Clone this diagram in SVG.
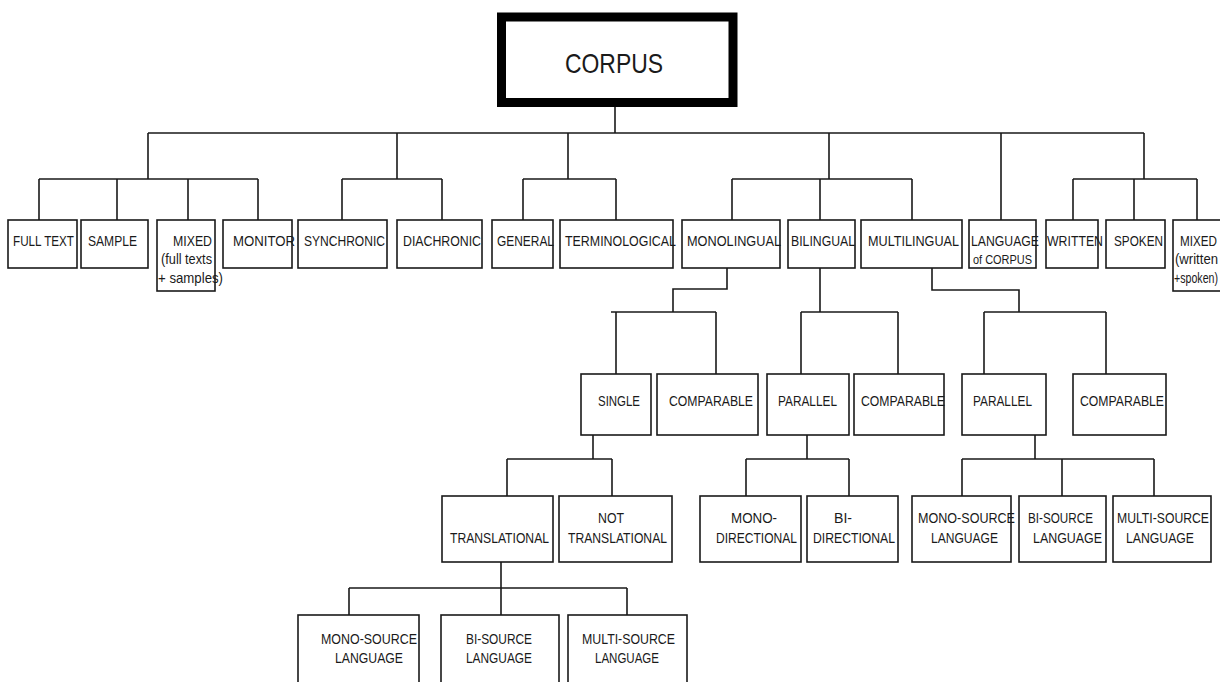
<svg xmlns="http://www.w3.org/2000/svg" width="1220" height="682" viewBox="0 0 1220 682">
<style>
.b{fill:#fff;stroke:#1a1a1a;stroke-width:1.6}
.c{fill:none;stroke:#1a1a1a;stroke-width:1.6}
text{font-family:"Liberation Sans",Arial,sans-serif;font-size:14.5px;fill:#1a1a1a}
.s{font-size:12px}
</style>
<rect width="1220" height="682" fill="#fff"/>
<g id="connectors">
<path class="c" d="M615 107V133M148 133H1144M148 133V179M397 133V179M568 133V179M829 133V179M1001 133V220M1144 133V179"/>
<path class="c" d="M39 179H258M39 179V220M117 179V220M188 179V220M258 179V220"/>
<path class="c" d="M342 179H442M342 179V220M442 179V220"/>
<path class="c" d="M523 179H616M523 179V220M616 179V220"/>
<path class="c" d="M732 179H912M732 179V220M820 179V220M912 179V220"/>
<path class="c" d="M1073 179H1197M1073 179V220M1134 179V220M1197 179V220"/>
<path class="c" d="M727 268V289H673V312M611 312H716M616 312V374M716 312V374"/>
<path class="c" d="M820 268V312M801 312H898M801 312V374M898 312V374"/>
<path class="c" d="M932 268V290H1019V312M984 312H1106M984 312V374M1106 312V374"/>
<path class="c" d="M593 435V459M507 459H612M507 459V496M612 459V496"/>
<path class="c" d="M807 435V459M746 459H849M746 459V496M849 459V496"/>
<path class="c" d="M1035 435V459M962 459H1154M962 459V496M1062 459V496M1154 459V496"/>
<path class="c" d="M501 562V588M349 588H627M349 588V615M501 588V615M627 588V615"/>
</g>
<g id="corpus"><rect x="501.5" y="17" width="231.5" height="85.5" fill="#fff" stroke="#000" stroke-width="9"/><text x="565" y="73" style="font-size:28px" textLength="98" lengthAdjust="spacingAndGlyphs">CORPUS</text></g>
<g id="full-text"><rect class="b" x="8" y="220" width="69" height="48"/><text x="13" y="246" textLength="61" lengthAdjust="spacingAndGlyphs">FULL TEXT</text></g>
<g id="sample"><rect class="b" x="81" y="220" width="67" height="48"/><text x="88" y="246" textLength="49" lengthAdjust="spacingAndGlyphs">SAMPLE</text></g>
<g id="mixed"><rect class="b" x="157" y="220" width="58" height="71"/><text x="173" y="246" textLength="39" lengthAdjust="spacingAndGlyphs">MIXED</text><text x="161" y="264" textLength="51" lengthAdjust="spacingAndGlyphs">(full texts</text><text x="158" y="283" textLength="65" lengthAdjust="spacingAndGlyphs">+ samples)</text></g>
<g id="monitor"><rect class="b" x="223" y="220" width="69" height="48"/><text x="233" y="246" textLength="62" lengthAdjust="spacingAndGlyphs">MONITOR</text></g>
<g id="synchronic"><rect class="b" x="298" y="220" width="89" height="48"/><text x="304" y="246" textLength="81" lengthAdjust="spacingAndGlyphs">SYNCHRONIC</text></g>
<g id="diachronic"><rect class="b" x="397" y="220" width="85" height="48"/><text x="403" y="246" textLength="78" lengthAdjust="spacingAndGlyphs">DIACHRONIC</text></g>
<g id="general"><rect class="b" x="492" y="220" width="61" height="48"/><text x="497" y="246" textLength="57" lengthAdjust="spacingAndGlyphs">GENERAL</text></g>
<g id="terminological"><rect class="b" x="560" y="220" width="113" height="48"/><text x="565" y="246" textLength="111" lengthAdjust="spacingAndGlyphs">TERMINOLOGICAL</text></g>
<g id="monolingual"><rect class="b" x="682" y="220" width="98" height="48"/><text x="687" y="246" textLength="94" lengthAdjust="spacingAndGlyphs">MONOLINGUAL</text></g>
<g id="bilingual"><rect class="b" x="788" y="220" width="67" height="48"/><text x="791" y="246" textLength="64" lengthAdjust="spacingAndGlyphs">BILINGUAL</text></g>
<g id="multilingual"><rect class="b" x="861" y="220" width="101" height="48"/><text x="868" y="246" textLength="91" lengthAdjust="spacingAndGlyphs">MULTILINGUAL</text></g>
<g id="language-of-corpus"><rect class="b" x="969" y="220" width="67" height="48"/><text x="971" y="246" textLength="68" lengthAdjust="spacingAndGlyphs">LANGUAGE</text><text class="s" x="973" y="264" textLength="59" lengthAdjust="spacingAndGlyphs">of CORPUS</text></g>
<g id="written"><rect class="b" x="1046" y="220" width="52" height="48"/><text x="1047" y="246" textLength="56" lengthAdjust="spacingAndGlyphs">WRITTEN</text></g>
<g id="spoken"><rect class="b" x="1106" y="220" width="59" height="48"/><text x="1114" y="246" textLength="49" lengthAdjust="spacingAndGlyphs">SPOKEN</text></g>
<g id="mixed-ws"><rect class="b" x="1173" y="220" width="60" height="71"/><text x="1180" y="246" textLength="37" lengthAdjust="spacingAndGlyphs">MIXED</text><text x="1175" y="264" textLength="43" lengthAdjust="spacingAndGlyphs">(written</text><text x="1174" y="283" textLength="44" lengthAdjust="spacingAndGlyphs">+spoken)</text></g>
<g id="single"><rect class="b" x="581" y="374" width="70" height="61"/><text x="598" y="406" textLength="42" lengthAdjust="spacingAndGlyphs">SINGLE</text></g>
<g id="comparable-mono"><rect class="b" x="657" y="374" width="101" height="61"/><text x="669" y="406" textLength="84" lengthAdjust="spacingAndGlyphs">COMPARABLE</text></g>
<g id="parallel-bi"><rect class="b" x="767" y="374" width="82" height="61"/><text x="778" y="406" textLength="59" lengthAdjust="spacingAndGlyphs">PARALLEL</text></g>
<g id="comparable-bi"><rect class="b" x="854" y="374" width="90" height="61"/><text x="861" y="406" textLength="84" lengthAdjust="spacingAndGlyphs">COMPARABLE</text></g>
<g id="parallel-multi"><rect class="b" x="962" y="374" width="84" height="61"/><text x="973" y="406" textLength="59" lengthAdjust="spacingAndGlyphs">PARALLEL</text></g>
<g id="comparable-multi"><rect class="b" x="1073" y="374" width="93" height="61"/><text x="1080" y="406" textLength="84" lengthAdjust="spacingAndGlyphs">COMPARABLE</text></g>
<g id="translational"><rect class="b" x="442" y="496" width="111" height="66"/><text x="450" y="543" textLength="99" lengthAdjust="spacingAndGlyphs">TRANSLATIONAL</text></g>
<g id="not-translational"><rect class="b" x="559" y="496" width="113" height="66"/><text x="598" y="523" textLength="26" lengthAdjust="spacingAndGlyphs">NOT</text><text x="568" y="543" textLength="99" lengthAdjust="spacingAndGlyphs">TRANSLATIONAL</text></g>
<g id="mono-directional"><rect class="b" x="700" y="496" width="101" height="66"/><text x="731" y="523" textLength="46" lengthAdjust="spacingAndGlyphs">MONO-</text><text x="716" y="543" textLength="81" lengthAdjust="spacingAndGlyphs">DIRECTIONAL</text></g>
<g id="bi-directional"><rect class="b" x="807" y="496" width="91" height="66"/><text x="834" y="523" textLength="18" lengthAdjust="spacingAndGlyphs">BI-</text><text x="813" y="543" textLength="82" lengthAdjust="spacingAndGlyphs">DIRECTIONAL</text></g>
<g id="mono-source-multi"><rect class="b" x="912" y="496" width="99" height="66"/><text x="918" y="523" textLength="97" lengthAdjust="spacingAndGlyphs">MONO-SOURCE</text><text x="931" y="543" textLength="67" lengthAdjust="spacingAndGlyphs">LANGUAGE</text></g>
<g id="bi-source-multi"><rect class="b" x="1019" y="496" width="87" height="66"/><text x="1028" y="523" textLength="65" lengthAdjust="spacingAndGlyphs">BI-SOURCE</text><text x="1033" y="543" textLength="69" lengthAdjust="spacingAndGlyphs">LANGUAGE</text></g>
<g id="multi-source-multi"><rect class="b" x="1113" y="496" width="98" height="66"/><text x="1117" y="523" textLength="92" lengthAdjust="spacingAndGlyphs">MULTI-SOURCE</text><text x="1126" y="543" textLength="68" lengthAdjust="spacingAndGlyphs">LANGUAGE</text></g>
<g id="mono-source-single"><rect class="b" x="298" y="615" width="121" height="80"/><text x="321" y="644" textLength="96" lengthAdjust="spacingAndGlyphs">MONO-SOURCE</text><text x="335" y="663" textLength="68" lengthAdjust="spacingAndGlyphs">LANGUAGE</text></g>
<g id="bi-source-single"><rect class="b" x="441" y="615" width="118" height="80"/><text x="466" y="644" textLength="66" lengthAdjust="spacingAndGlyphs">BI-SOURCE</text><text x="466" y="663" textLength="66" lengthAdjust="spacingAndGlyphs">LANGUAGE</text></g>
<g id="multi-source-single"><rect class="b" x="568" y="615" width="119" height="80"/><text x="582" y="644" textLength="93" lengthAdjust="spacingAndGlyphs">MULTI-SOURCE</text><text x="595" y="663" textLength="64" lengthAdjust="spacingAndGlyphs">LANGUAGE</text></g>
</svg>
